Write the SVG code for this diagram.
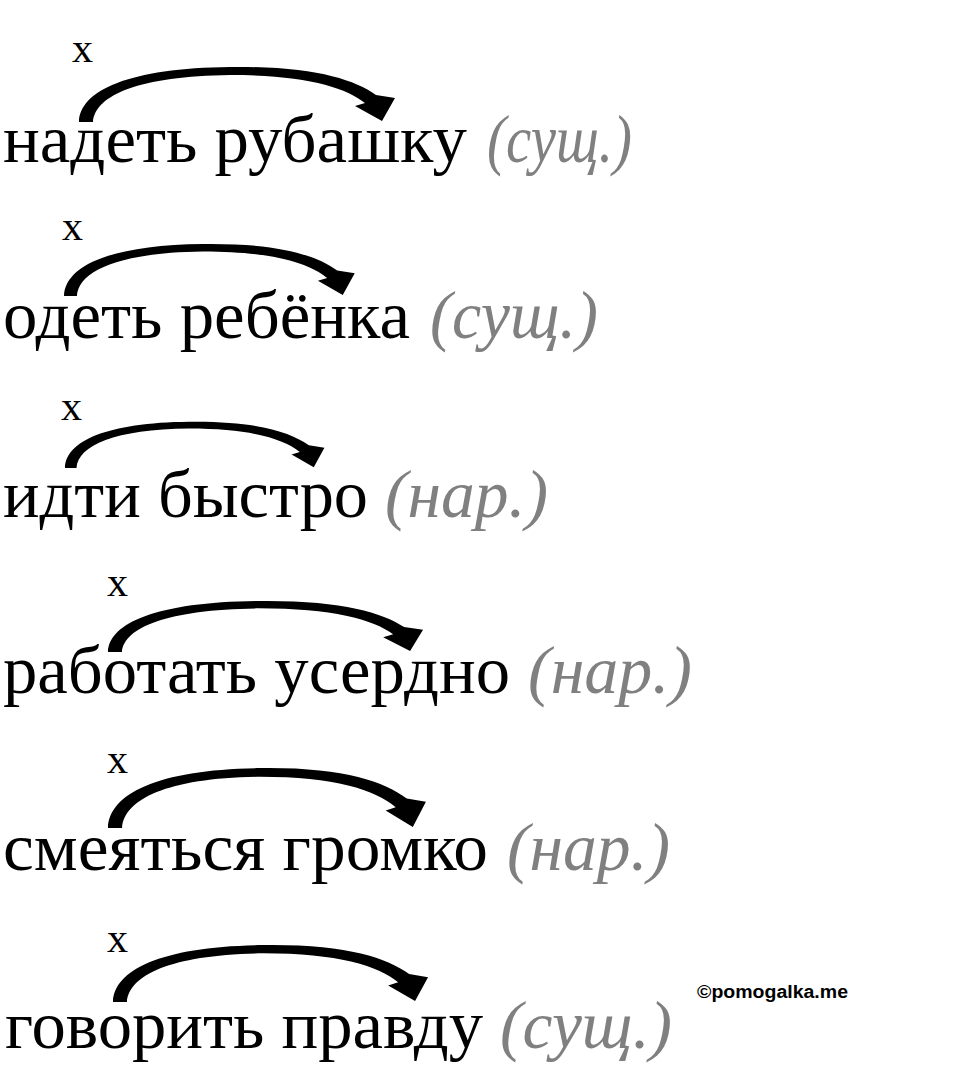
<svg xmlns="http://www.w3.org/2000/svg" xmlns:xlink="http://www.w3.org/1999/xlink" width="960" height="1066" viewBox="0 0 960 1066">
<style>
.w{font-family:"Liberation Serif","Times New Roman",serif;font-size:68px;fill:#000}
.p{font-family:"Liberation Serif","Times New Roman",serif;font-size:68px;font-style:italic;fill:#808080}
.x{font-family:"Liberation Serif","Times New Roman",serif;font-size:42px;fill:#000}
.arc{fill:#000;stroke:none}
.wm{font-family:"Liberation Sans",Arial,sans-serif;font-size:18px;font-weight:bold;fill:#000}
</style>
<defs>
<path id="arc" d="M0,56 C1,24 51,2 151,1 C233,0 274,13 297,29 L316,32 L303,55 L276,40 L286,37 C266,21 225,9 151,9 C61,10 16,29 14,56 Z"/>
</defs>
<rect width="960" height="1066" fill="#fff"/>
<g id="connectors">
<use xlink:href="#arc" class="arc" transform="translate(79,66) scale(1,1)"/>
<use xlink:href="#arc" class="arc" transform="translate(64,243) scale(0.92,0.946)"/>
<use xlink:href="#arc" class="arc" transform="translate(65,421) scale(0.821,0.839)"/>
<use xlink:href="#arc" class="arc" transform="translate(108,600) scale(0.997,0.929)"/>
<use xlink:href="#arc" class="arc" transform="translate(108,767) scale(1.006,1.089)"/>
<use xlink:href="#arc" class="arc" transform="translate(113,944) scale(0.997,1.036)"/>
</g>
<g id="row1">
<text class="x" x="72" y="62">x</text>
<text class="w" x="3" y="162" textLength="464" lengthAdjust="spacingAndGlyphs">надеть рубашку</text>
<text class="p" x="487" y="162" textLength="145" lengthAdjust="spacingAndGlyphs">(сущ.)</text>
</g>
<g id="row2">
<text class="x" x="62" y="240">x</text>
<text class="w" x="3" y="338" textLength="407" lengthAdjust="spacingAndGlyphs">одеть ребёнка</text>
<text class="p" x="430" y="338" textLength="168" lengthAdjust="spacingAndGlyphs">(сущ.)</text>
</g>
<g id="row3">
<text class="x" x="61" y="420">x</text>
<text class="w" x="3" y="517" textLength="365" lengthAdjust="spacingAndGlyphs">идти быстро</text>
<text class="p" x="385" y="517" textLength="163" lengthAdjust="spacingAndGlyphs">(нар.)</text>
</g>
<g id="row4">
<text class="x" x="107" y="596">x</text>
<text class="w" x="3" y="693" textLength="507" lengthAdjust="spacingAndGlyphs">работать усердно</text>
<text class="p" x="528" y="693" textLength="164" lengthAdjust="spacingAndGlyphs">(нар.)</text>
</g>
<g id="row5">
<text class="x" x="107" y="773">x</text>
<text class="w" x="3" y="870" textLength="485" lengthAdjust="spacingAndGlyphs">смеяться громко</text>
<text class="p" x="507" y="870" textLength="163" lengthAdjust="spacingAndGlyphs">(нар.)</text>
</g>
<g id="row6">
<text class="x" x="107" y="952">x</text>
<text class="w" x="5" y="1048" textLength="478" lengthAdjust="spacingAndGlyphs">говорить правду</text>
<text class="p" x="500" y="1048" textLength="172" lengthAdjust="spacingAndGlyphs">(сущ.)</text>
</g>
<g id="watermark">
<text class="wm" x="697" y="998" textLength="151" lengthAdjust="spacingAndGlyphs">©pomogalka.me</text>
</g>
</svg>
